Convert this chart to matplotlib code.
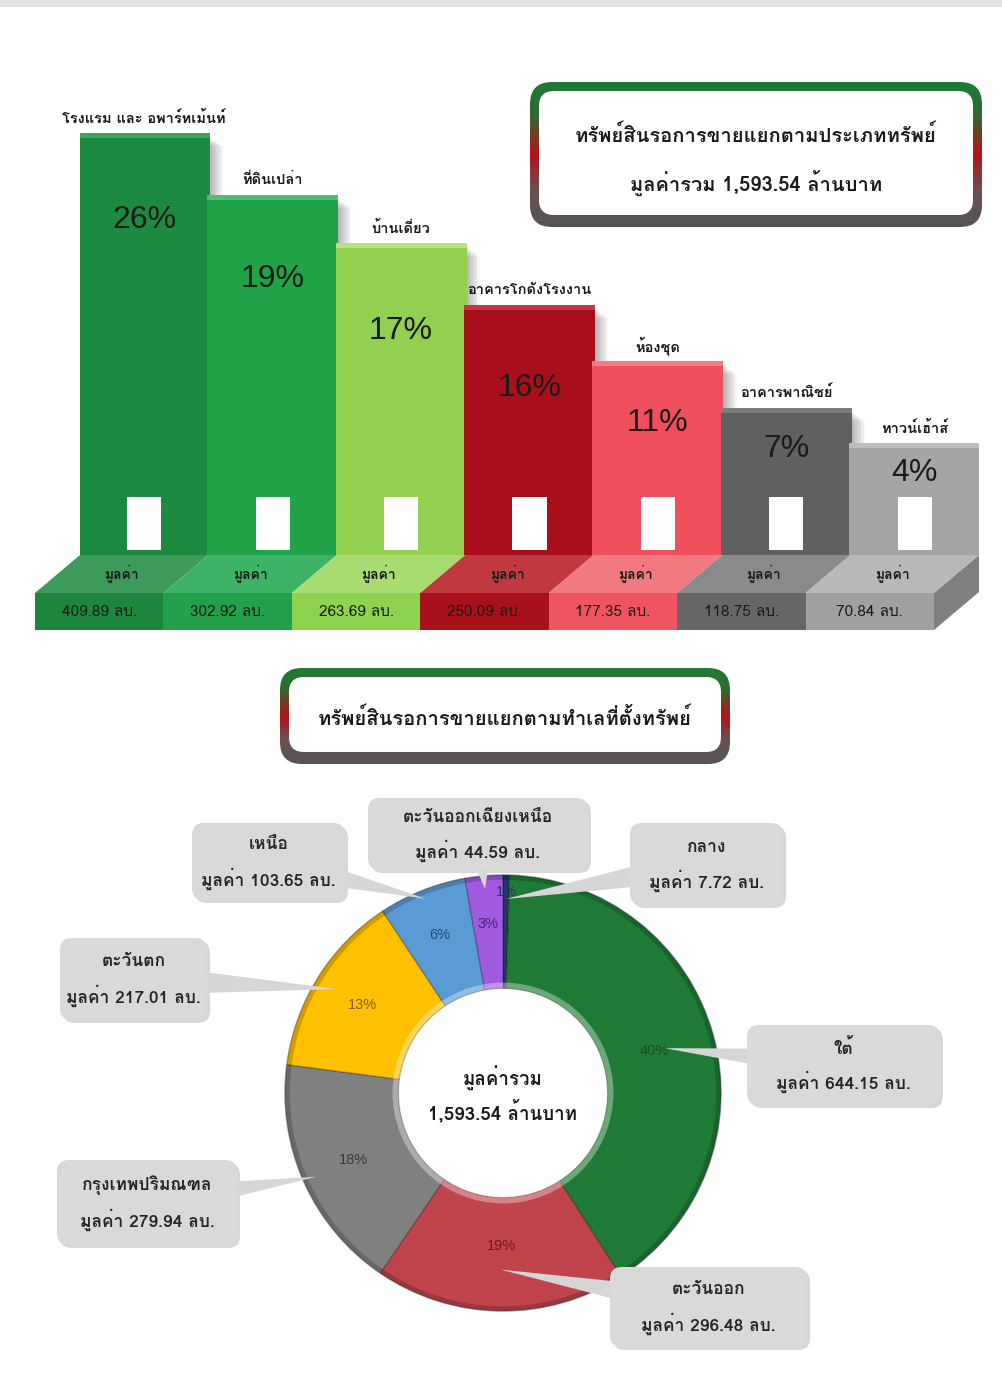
import numpy as np
import matplotlib
matplotlib.use("Agg")
import matplotlib.pyplot as plt
from matplotlib import font_manager
from matplotlib.ft2font import FT2Font
from matplotlib.patches import FancyBboxPatch, Polygon, Rectangle
from matplotlib.colors import LinearSegmentedColormap

# ---------------- data ----------------
type_names = ["โรงแรม และ อพาร์ทเม้นท์", "ที่ดินเปล่า", "บ้านเดี่ยว", "อาคารโกดังโรงงาน",
              "ห้องชุด", "อาคารพาณิชย์", "ทาวน์เฮ้าส์"]
type_values = [409.89, 302.92, 263.69, 250.09, 177.35, 118.75, 70.84]
type_pct = ["26%", "19%", "17%", "16%", "11%", "7%", "4%"]
# stair heights of the bars as drawn in the infographic (px)
step_heights = [422, 360, 312, 250, 194, 147, 112]

region_names = ["กลาง", "ใต้", "ตะวันออก", "กรุงเทพปริมณฑล", "ตะวันตก", "เหนือ",
                "ตะวันออกเฉียงเหนือ"]
region_values = [7.72, 644.15, 296.48, 279.94, 217.01, 103.65, 44.59]
region_pct = ["1%", "40%", "19%", "18%", "13%", "6%", "3%"]
total_text = "1,593.54"

# ---------------- styles ----------------
bar_colors = ["#1C8B3F", "#21A347", "#92D050", "#A90F1B", "#F0505B", "#606060", "#A5A5A5"]
bar_tops = ["#3FA45E", "#4CC06E", "#B3E27F", "#C8353E", "#F57A82", "#7D7D7D", "#BDBDBD"]
shelf_top = ["#3E9A5A", "#3DB465", "#A8DC70", "#C0393F", "#F07A80", "#8A8A8A", "#B8B8B8"]
shelf_front = ["#1E863C", "#22A04A", "#8ED34F", "#A8111A", "#EE5560", "#666666", "#A0A0A0"]
pct_drop = [87, 84, 88, 83, 62, 41, 30]

region_colors = ["#1F3864", "#1F7A35", "#C0444C", "#808080", "#FFC000", "#5B9BD5", "#A05AE0"]
region_pct_colors = ["#1F3864", "#174F24", "#6B1A1F", "#3A3A3A", "#7F5F00", "#1F4E79", "#4B2070"]
pct_r = [0.92, 0.72, 0.70, 0.75, 0.76, 0.78, 0.78]
callout_box = [(630, 823, 783, 905), (747, 1025, 940, 1105), (610, 1267, 807, 1347),
               (57, 1160, 237, 1245), (60, 938, 207, 1020), (192, 823, 345, 900),
               (368, 798, 588, 870)]
ptr_r = [0.89, 0.77, 0.81, 0.94, 0.90, 0.96, 0.94]


def thai_fonts():
    found = []
    for f in font_manager.fontManager.ttflist:
        try:
            cmap = FT2Font(f.fname).get_charmap()
        except Exception:
            continue
        if 0x0E01 in cmap and 0x0E49 in cmap and f.name not in found:
            found.append(f.name)
    return found


found = thai_fonts()
pref = ["Tahoma", "Loma", "Noto Sans Thai", "Noto Sans Thai UI", "Garuda", "Sarabun"]
thai = next((p for p in pref if p in found), found[0] if found else "DejaVu Sans")
plt.rcParams["font.family"] = [thai, "Liberation Sans", "DejaVu Sans"]

W, H = 1002, 1382


def Y(y):
    return H - y


fig = plt.figure(figsize=(W / 100, H / 100), dpi=100)
bg = fig.add_axes([0, 0, 1, 1])
bg.set_xlim(0, W)
bg.set_ylim(0, H)
bg.axis("off")

# faint band at the top edge
bg.add_patch(Rectangle((0, Y(7)), W, 7, fc="#E2E2E2", ec="none", zorder=0))

# ---------------- title boxes ----------------
border_cmap = LinearSegmentedColormap.from_list(
    "border", [(0, "#1E7B34"), (0.22, "#2E6B30"), (0.5, "#B5121B"), (0.75, "#6A5050"), (1, "#555555")])


def title_box(x0, y0, x1, y1, lines, ys):
    outer = FancyBboxPatch((x0, Y(y1)), x1 - x0, y1 - y0,
                           boxstyle="round,pad=0,rounding_size=22", fc="none", ec="none")
    bg.add_patch(outer)
    grad = np.linspace(0, 1, 200).reshape(-1, 1)
    im = bg.imshow(grad, cmap=border_cmap, extent=[x0, x1, Y(y1), Y(y0)],
                   aspect="auto", zorder=2)
    im.set_clip_path(outer)
    inner = FancyBboxPatch((x0 + 9, Y(y1 - 12)), x1 - x0 - 18, y1 - y0 - 21,
                           boxstyle="round,pad=0,rounding_size=15", fc="white", ec="none",
                           zorder=3)
    bg.add_patch(inner)
    for t, yy in zip(lines, ys):
        bg.text((x0 + x1) / 2, Y(yy), t, ha="center", va="center", fontsize=14.5,
                weight="bold", color="#1A1A1A", zorder=4)


title_box(530, 82, 982, 227, ["ทรัพย์สินรอการขายแยกตามประเภททรัพย์",
                              f"มูลค่ารวม {total_text} ล้านบาท"], [135, 183])
title_box(280, 668, 730, 764, ["ทรัพย์สินรอการขายแยกตามทำเลที่ตั้งทรัพย์"], [718])

# ---------------- stair bar chart ----------------
BX0, BX1, BASE, TOP = 80, 979, 555, 100
ax = fig.add_axes([BX0 / W, (H - BASE) / H, (BX1 - BX0) / W, (BASE - TOP) / H])
ax.set_xlim(-0.5, 6.5)
ax.set_ylim(0, BASE - TOP)
ax.axis("off")
px = 1.0 / ((BX1 - BX0) / 7.0)   # one pixel in x data units
x = np.arange(len(type_values))
for i in x:
    h = step_heights[i]
    # soft shadow on the right
    for k in range(10):
        ax.bar(i + (2 + 1.4 * k) * px, h - 4 - k, width=1.0, bottom=0, color="black",
               alpha=0.03, zorder=2 + 3 * i, linewidth=0)
    ax.bar(i, h, width=1.02, color=bar_colors[i], zorder=3 + 3 * i, linewidth=0)
    ax.bar(i, 5, bottom=h - 5, width=1.02, color=bar_tops[i], zorder=3.5 + 3 * i, linewidth=0)
    ax.bar(i, 53, bottom=5, width=0.265, color="white", zorder=4 + 3 * i, linewidth=0)
    ax.text(i, h - pct_drop[i], type_pct[i], ha="center", va="center", fontsize=23,
            family="Liberation Sans", color="#1A1A1A", zorder=30)
    ax.text(i, h + 15, type_names[i], ha="center", va="center", fontsize=10.5,
            weight="bold", color="#1A1A1A", zorder=30)

# shelf with the values
DX, TH, FH = 45 * px, 38, 37
for i in x:
    ax.add_patch(Polygon([(i - 0.5, 0), (i + 0.5, 0), (i + 0.5 - DX, -TH), (i - 0.5 - DX, -TH)],
                         closed=True, fc=shelf_top[i], ec="none", clip_on=False, zorder=40))
    ax.add_patch(Rectangle((i - 0.5 - DX, -TH - FH), 1, FH, fc=shelf_front[i], ec="none",
                           clip_on=False, zorder=40))
    ax.text(i - DX / 2, -TH / 2, "มูลค่า", ha="center", va="center", fontsize=10,
            weight="bold", color="#1A1A1A", zorder=41, clip_on=False)
    ax.text(i - DX, -TH - FH / 2, f"{type_values[i]:.2f} ลบ.", ha="center", va="center",
            fontsize=11, color="#1A1A1A", zorder=41, clip_on=False)
ax.add_patch(Polygon([(6.5, 0), (6.5, -FH), (6.5 - DX, -TH - FH), (6.5 - DX, -TH)],
                     closed=True, fc="#808080", ec="none", clip_on=False, zorder=39))

# ---------------- donut ----------------
CX, CY, R = 503, 1093, 218
wedges, _ = bg.pie(region_values, colors=region_colors, startangle=90, counterclock=False,
                   radius=R, center=(CX, Y(CY)), frame=True,
                   wedgeprops=dict(width=R * 0.52, edgecolor=(0, 0, 0, 0.25), linewidth=1))
for w in wedges:
    w.set_zorder(2)
# bevel: darker outer rim, light inner rim
bg.add_patch(plt.Circle((CX, Y(CY)), R - 2, fc="none", ec=(0, 0, 0, 0.18), lw=4, zorder=2.5))
bg.add_patch(plt.Circle((CX, Y(CY)), R * 0.48 + 3, fc="none", ec=(1, 1, 1, 0.35), lw=4,
                        zorder=2.5))

mids = [np.deg2rad((w.theta1 + w.theta2) / 2) for w in wedges]
for i, a in enumerate(mids):
    bg.text(CX + pct_r[i] * R * np.cos(a), Y(CY) + pct_r[i] * R * np.sin(a), region_pct[i],
            ha="center", va="center", fontsize=10.5, family="Liberation Sans",
            color=region_pct_colors[i], zorder=3)

bg.text(CX, Y(1078), "มูลค่ารวม", ha="center", va="center", fontsize=13.5, weight="bold",
        color="#1A1A1A", zorder=3)
bg.text(CX, Y(1112), f"{total_text} ล้านบาท", ha="center", va="center", fontsize=13.5,
        weight="bold", color="#1A1A1A", zorder=3)

# callouts
for i, name in enumerate(region_names):
    x0, y0, x1, y1 = callout_box[i]
    a = mids[i]
    tx, ty = CX + ptr_r[i] * R * np.cos(a), Y(CY) + ptr_r[i] * R * np.sin(a)
    bx, by = (x0 + x1) / 2, Y((y0 + y1) / 2)
    d = np.array([tx - bx, ty - by])
    n = np.array([-d[1], d[0]]) / np.hypot(*d)
    bg.add_patch(Polygon([(bx + n[0] * 16, by + n[1] * 16), (bx - n[0] * 16, by - n[1] * 16),
                          (tx, ty)], closed=True, fc="#D6D6D6", ec="none", zorder=4))
    bg.add_patch(FancyBboxPatch((x0 + 3, Y(y1) - 3), x1 - x0, y1 - y0,
                                boxstyle="round,pad=0,rounding_size=12", fc="#B0B0B0",
                                ec="none", alpha=0.5, zorder=3))
    bg.add_patch(FancyBboxPatch((x0, Y(y1)), x1 - x0, y1 - y0,
                                boxstyle="round,pad=0,rounding_size=12", fc="#D9D9D9",
                                ec="none", zorder=5))
    cy = (y0 + y1) / 2
    bg.text(bx, Y(cy - 17), name, ha="center", va="center", fontsize=12.5, weight="bold",
            color="#262626", zorder=6)
    bg.text(bx, Y(cy + 17), f"มูลค่า {region_values[i]:.2f} ลบ.", ha="center", va="center",
            fontsize=12.5, weight="bold", color="#262626", zorder=6)

bg.set_xlim(0, W)
bg.set_ylim(0, H)
bg.axis("off")

fig.savefig("out.png", dpi=100)
